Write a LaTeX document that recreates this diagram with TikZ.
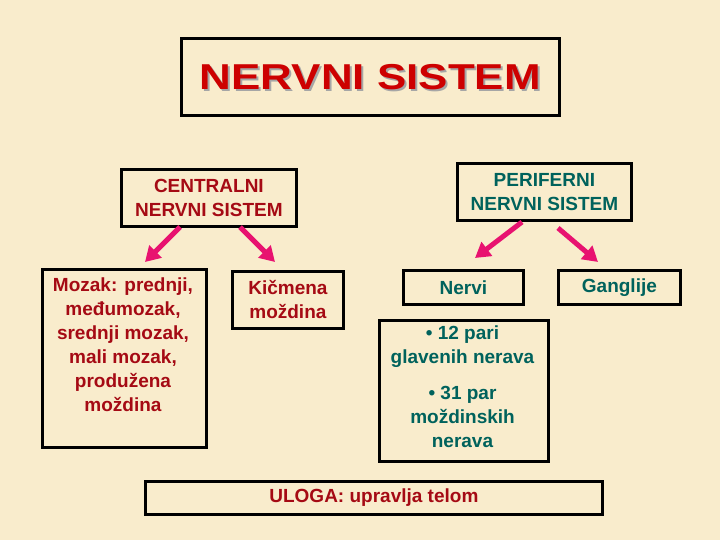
\documentclass[tikz,border=0pt]{standalone}
\usepackage{fontspec}
\setmainfont{Liberation Sans}
\usetikzlibrary{arrows.meta}
\definecolor{bg}{RGB}{249,236,204}
\definecolor{darkred}{RGB}{165,10,20}
\definecolor{titlered}{RGB}{205,0,0}
\definecolor{tealtxt}{RGB}{0,98,92}
\definecolor{arrowpink}{RGB}{232,18,112}
\tikzset{
  box/.style={draw=black, line width=2.8pt, inner sep=0pt, anchor=north west, align=center,
    font=\bfseries\fontsize{19}{24}\selectfont},
  redtxt/.style={text=darkred},
  tealbox/.style={text=tealtxt},
  arr/.style={draw=arrowpink, line width=5pt, -{Triangle[length=15pt,width=17pt]}},
}
\begin{document}
\begin{tikzpicture}[x=1pt,y=-1pt]
\useasboundingbox (0,0) rectangle (720,540);
\fill[bg] (0,0) rectangle (720,540);
% title
\node[box, minimum width=378pt, minimum height=77pt] (title) at (180,37) {};
\node[text=gray!70, font=\bfseries\fontsize{36}{40}\selectfont, xscale=1.22] at ([xshift=2pt,yshift=-2pt]title.center) {NERVNI SISTEM};
\node[text=titlered, font=\bfseries\fontsize{36}{40}\selectfont, xscale=1.22] (titletxt) at (title.center) {NERVNI SISTEM};
% CNS
\node[box, redtxt, minimum width=175pt, minimum height=57pt] (cns) at (120,168) {CENTRALNI\\NERVNI SISTEM};
% PNS
\node[box, tealbox, minimum width=174pt, minimum height=57pt] (pns) at (456,162) {PERIFERNI\\NERVNI SISTEM};
% Mozak
\node[box, minimum width=164pt, minimum height=178pt] (mozak) at (41,268) {};
\node[redtxt, align=center, font=\bfseries\fontsize{19}{24}\selectfont, inner sep=0pt] (mozaktxt) at (123,345) {Mozak: prednji,\\međumozak,\\srednji mozak,\\mali mozak,\\produžena\\moždina};
% Kicmena
\node[box, redtxt, minimum width=111pt, minimum height=57pt] (kic) at (231,270) {Kičmena\\moždina};
% Nervi
\node[box, tealbox, minimum width=120pt, minimum height=34pt] (nervi) at (402,269) {Nervi};
% Ganglije
\node[box, tealbox, minimum width=122pt, minimum height=34pt] (gang) at (557,269) {Ganglije};
% Nerva detail
\node[box, tealbox, minimum width=169pt, minimum height=141pt] (detail) at (378,319) {};
\node[text=tealtxt, align=center, font=\bfseries\fontsize{19}{24}\selectfont, inner sep=0pt] (detailtxt) at (462.5,387) {• 12 pari\\glavenih nerava\\[12pt]• 31 par\\moždinskih\\nerava};
% Uloga
\node[box, redtxt, minimum width=457pt, minimum height=33pt] (uloga) at (144,480) {ULOGA: upravlja telom};
% arrows
\coordinate (a1s) at (180,227);
\coordinate (a1e) at (145,262);
\coordinate (a2s) at (240,227);
\coordinate (a2e) at (275,262);
\coordinate (a3s) at (522,222);
\coordinate (a3e) at (475,258);
\coordinate (a4s) at (558,228);
\coordinate (a4e) at (598,262);
\draw[arr] (a1s) -- (a1e);
\draw[arr] (a2s) -- (a2e);
\draw[arr] (a3s) -- (a3e);
\draw[arr] (a4s) -- (a4e);
\end{tikzpicture}
\end{document}
